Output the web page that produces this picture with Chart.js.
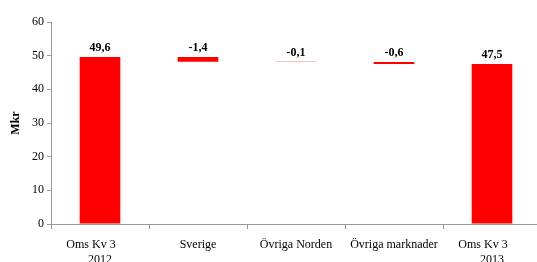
<!DOCTYPE html>
<html><head><meta charset="utf-8">
<script src="https://cdn.jsdelivr.net/npm/chart.js@4"></script>
<style>html,body{margin:0;padding:0;background:#fff;overflow:hidden}#w{width:541px;height:262px}</style>
</head><body><div id="w"><canvas id="c"></canvas></div>
<script>
const categories = [["Oms Kv 3\u2003\u2002","2012"],"Sverige","Övriga Norden","Övriga marknader",["Oms Kv 3\u2003\u2002","2013"]];
const values = [49.6, -1.4, -0.1, -0.6, 47.5];
const isTotal = [true, false, false, false, true];
const yTicks = [0,10,20,30,40,50,60];

// build floating ranges from the waterfall values
const ranges = [];
let run = 0;
values.forEach((v,i)=>{
  if(isTotal[i]){ ranges.push([0,v]); run = v; }
  else { const s = run, e = run + v; ranges.push([Math.min(s,e),Math.max(s,e)]); run = e; }
});

const FONT = "'Liberation Serif', 'Times New Roman', serif";

const labelPlugin = {
  id:'vals',
  afterDatasetsDraw(chart){
    const ctx = chart.ctx, meta = chart.getDatasetMeta(0), y = chart.scales.y;
    ctx.save();
    ctx.font = 'bold 12px ' + FONT;
    ctx.fillStyle = '#000';
    ctx.textAlign = 'center';
    ctx.textBaseline = 'bottom';
    meta.data.forEach((bar,i)=>{
      const top = y.getPixelForValue(ranges[i][1]);
      ctx.fillText(values[i].toFixed(1).replace('.',','), bar.x, top - 3);
    });
    ctx.restore();
  }
};

new Chart(document.getElementById('c'),{
  type:'bar',
  data:{labels:categories,datasets:[{data:ranges,backgroundColor:'#FF0000',borderWidth:0,categoryPercentage:1,barPercentage:0.415}]},
  options:{
    responsive:true,maintainAspectRatio:false,animation:false,
    layout:{padding:{left:9,right:0,top:22,bottom:0}},
    plugins:{legend:{display:false},tooltip:{enabled:false}},
    scales:{
      x:{
        grid:{display:true,drawOnChartArea:false,drawTicks:true,tickLength:5,color:'#999',offset:true},
        border:{display:true,color:'#999'},
        ticks:{font:{family:FONT,size:12},color:'#000',maxRotation:0,autoSkip:false,padding:9},
        afterFit(s){s.height=38;}
      },
      y:{
        min:0,max:60,
        afterBuildTicks(s){s.ticks=yTicks.map(v=>({value:v}));},
        grid:{display:true,drawOnChartArea:false,drawTicks:true,tickLength:4,color:'#999'},
        border:{display:true,color:'#999'},
        ticks:{font:{family:FONT,size:12},color:'#000',padding:3},
        title:{display:true,text:'Mkr',font:{family:FONT,size:12,weight:'bold'},color:'#000',padding:{top:0,bottom:2}},
        afterFit(s){s.width=42;}
      }
    }
  },
  plugins:[labelPlugin]
});
</script></body></html>
